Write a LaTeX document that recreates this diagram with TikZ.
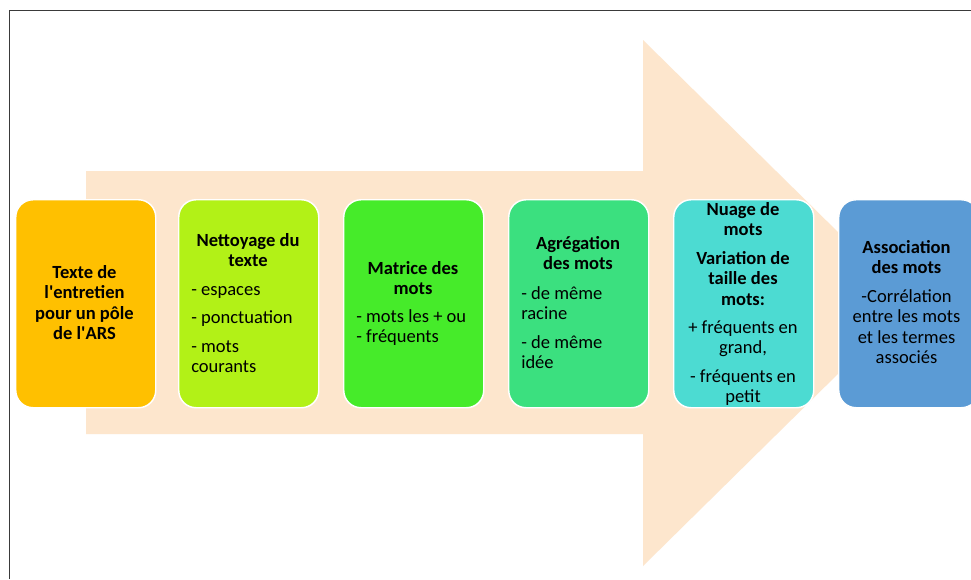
\documentclass[tikz,border=0pt]{standalone}
\usepackage{fontspec}
\setmainfont{Carlito}
\definecolor{arrowc}{HTML}{FDE6CD}
\definecolor{cA}{HTML}{FFC000}
\definecolor{cB}{HTML}{B2F117}
\definecolor{cC}{HTML}{46EB2A}
\definecolor{cD}{HTML}{3BE07F}
\definecolor{cE}{HTML}{4CDBD2}
\definecolor{cF}{HTML}{5B9BD5}
\definecolor{framec}{HTML}{3A3A3A}
\begin{document}
\begin{tikzpicture}[x=0.75pt,y=-0.75pt,
  stepbox/.style={draw=white,line width=1.1pt,rounded corners=13pt,
    minimum width=105pt,minimum height=156pt,inner sep=0pt,anchor=north west},
  head/.style={inner sep=0pt,align=center,anchor=north,
    font=\fontsize{13.9}{15.4}\selectfont\bfseries},
  body/.style={inner sep=0pt,align=left,anchor=north west,
    font=\fontsize{13.9}{15.4}\selectfont},
  bodyc/.style={inner sep=0pt,align=center,anchor=north,
    font=\fontsize{13.9}{15.4}\selectfont}]
\useasboundingbox (0,0) rectangle (971,579);
\fill[white] (0,0) rectangle (971,579);
\clip (0,0) rectangle (971,579);
% frame
\draw[framec,line width=1pt] (9.5,579) -- (9.5,10.5) -- (971,10.5);
% big arrow
\fill[arrowc] (86,171) -- (643,171) -- (643,40) -- (910,303) -- (643,566)
  -- (643,434) -- (86,434) -- cycle;
% boxes
\node[stepbox,fill=cA] (b1) at (15,199) {};
\node[stepbox,fill=cB] (b2) at (178,199) {};
\node[stepbox,fill=cC] (b3) at (343,199) {};
\node[stepbox,fill=cD] (b4) at (508,199) {};
\node[stepbox,fill=cE] (b5) at (673,199) {};
\node[stepbox,fill=cF] (b6) at (838,199) {};
% texts
\node[head] (t1) at (84.5,263.6) {\strut Texte de\\l\textquotesingle entretien\\pour un pôle\\de l\textquotesingle ARS};
\node[head] (t2h) at (248,231.6) {\strut Nettoyage du\\texte};
\node[body] (t2b) at (191,280.6) {\strut - espaces\\[6pt]- ponctuation\\[6pt]- mots\\courants};
\node[head] (t3h) at (413,259.6) {\strut Matrice des\\mots};
\node[body] (t3b) at (356,307.6) {\strut - mots les + ou\\- fréquents};
\node[head] (t4h) at (578,234.6) {\strut Agrégation\\des mots};
\node[body] (t4b) at (521,284.6) {\strut - de même\\racine\\[6pt]- de même\\idée};
\node[head] (t5h) at (743,200.6) {\strut Nuage de\\mots\\[6pt]Variation de\\taille des\\mots:};
\node[bodyc] (t5b) at (743,318.6) {\strut + fréquents en\\grand,\\[6pt]- fréquents en\\petit};
\node[head] (t6h) at (906.5,238.6) {\strut Association\\des mots};
\node[bodyc] (t6b) at (906.5,287.6) {\strut -Corrélation\\entre les mots\\et les termes\\associés};
\end{tikzpicture}
\end{document}
